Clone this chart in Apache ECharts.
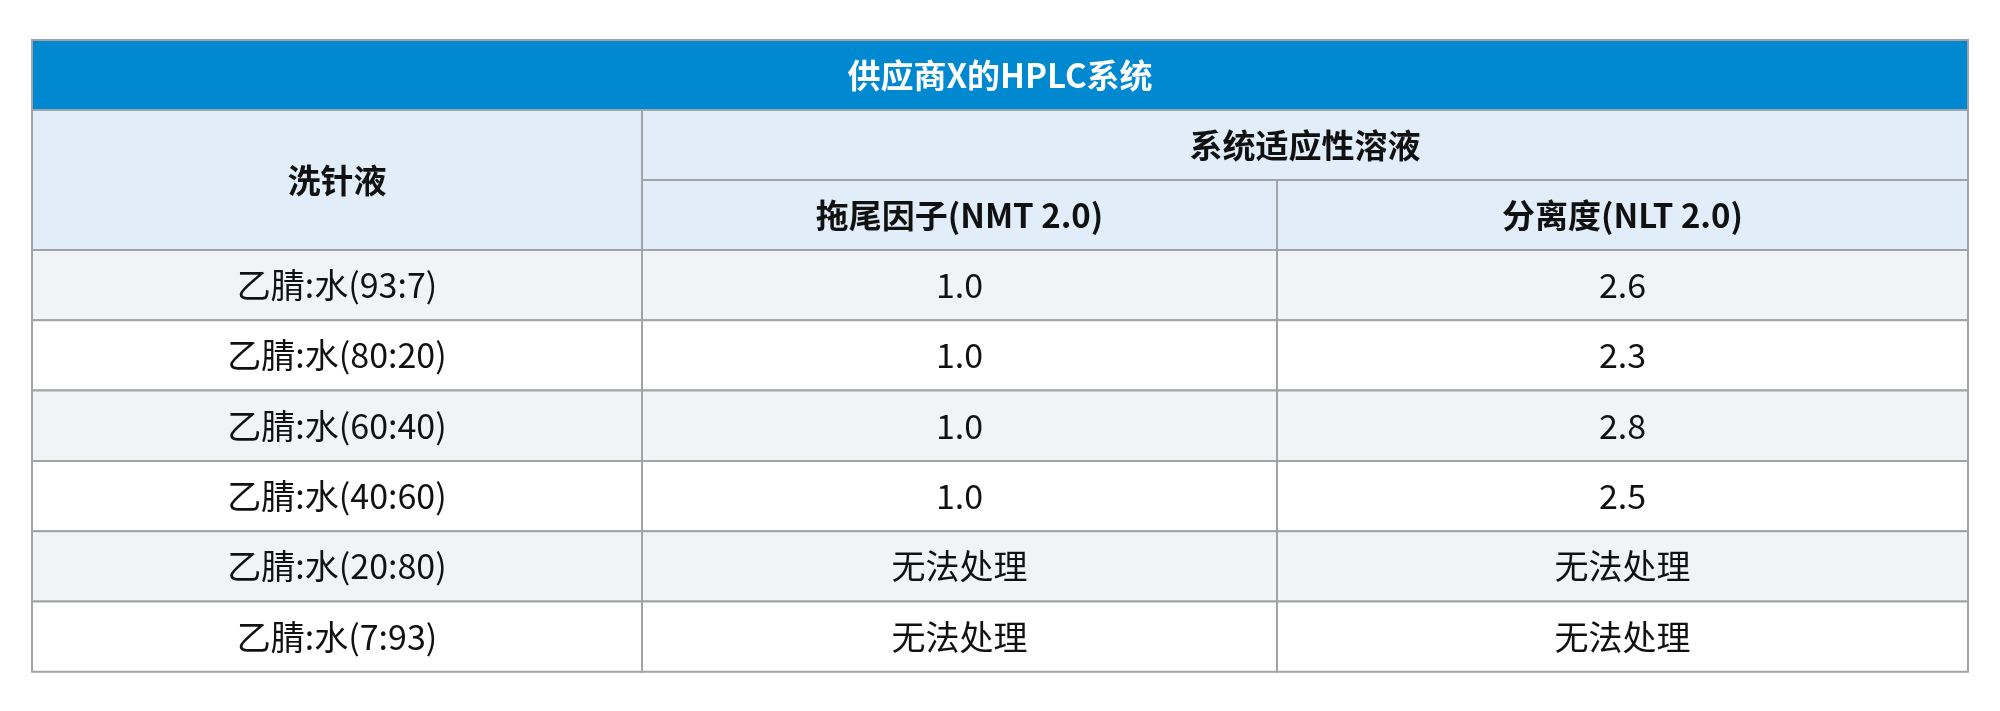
<!DOCTYPE html>
<html>
<head>
<meta charset="utf-8">
<script src="https://cdn.jsdelivr.net/npm/echarts@6/dist/echarts.min.js"></script>
<style>html,body{margin:0;padding:0;background:#fff}#main{width:2000px;height:711px}</style>
</head>
<body>
<div id="main"></div>
<script>
// 表格数据
var title = '供应商X的HPLC系统';
var groupHeader = '系统适应性溶液';
var colHeaders = ['洗针液', '拖尾因子(NMT 2.0)', '分离度(NLT 2.0)'];
var solvents = ['乙腈:水(93:7)', '乙腈:水(80:20)', '乙腈:水(60:40)', '乙腈:水(40:60)', '乙腈:水(20:80)', '乙腈:水(7:93)'];
var tailing = ['1.0', '1.0', '1.0', '1.0', '无法处理', '无法处理'];
var resolution = ['2.6', '2.3', '2.8', '2.5', '无法处理', '无法处理'];

var L = 32, R = 1968, T = 40, titleB = 110, h1B = 180, hB = 250, rowH = 70.3;
var cx = [L, 642, 1277, R];
var font = '"Noto Sans CJK SC", Roboto, sans-serif';
var line = '#A0A4A8';
var els = [];

function cell(x1, y1, x2, y2, fill, txt, bold, color, size) {
    els.push({type: 'rect', shape: {x: x1, y: y1, width: x2 - x1, height: y2 - y1},
        style: {fill: fill, stroke: line, lineWidth: 2}});
    els.push({type: 'text', x: (x1 + x2) / 2, y: (y1 + y2) / 2,
        style: {text: txt, fill: color || '#111', font: (bold ? 'bold ' : '') + (size || 33) + 'px ' + font,
            align: 'center', verticalAlign: 'middle'}});
}

cell(L, T, R, titleB, '#0088D1', title, true, '#fff', 33);
cell(cx[0], titleB, cx[1], hB, '#E1EDF8', colHeaders[0], true);
cell(cx[1], titleB, cx[3], h1B, '#E1EDF8', groupHeader, true);
cell(cx[1], h1B, cx[2], hB, '#E1EDF8', colHeaders[1], true);
cell(cx[2], h1B, cx[3], hB, '#E1EDF8', colHeaders[2], true);

solvents.forEach(function (s, i) {
    var y1 = hB + i * rowH, y2 = y1 + rowH;
    var bg = i % 2 === 0 ? '#F2F3F5' : '#FFFFFF';
    cell(cx[0], y1, cx[1], y2, bg, s, false, '#111', 34);
    cell(cx[1], y1, cx[2], y2, bg, tailing[i], false, '#111', 34);
    cell(cx[2], y1, cx[3], y2, bg, resolution[i], false, '#111', 34);
});

var myChart = echarts.init(document.getElementById('main'));
myChart.setOption({animation: false, graphic: {elements: els}});
</script>
</body>
</html>
